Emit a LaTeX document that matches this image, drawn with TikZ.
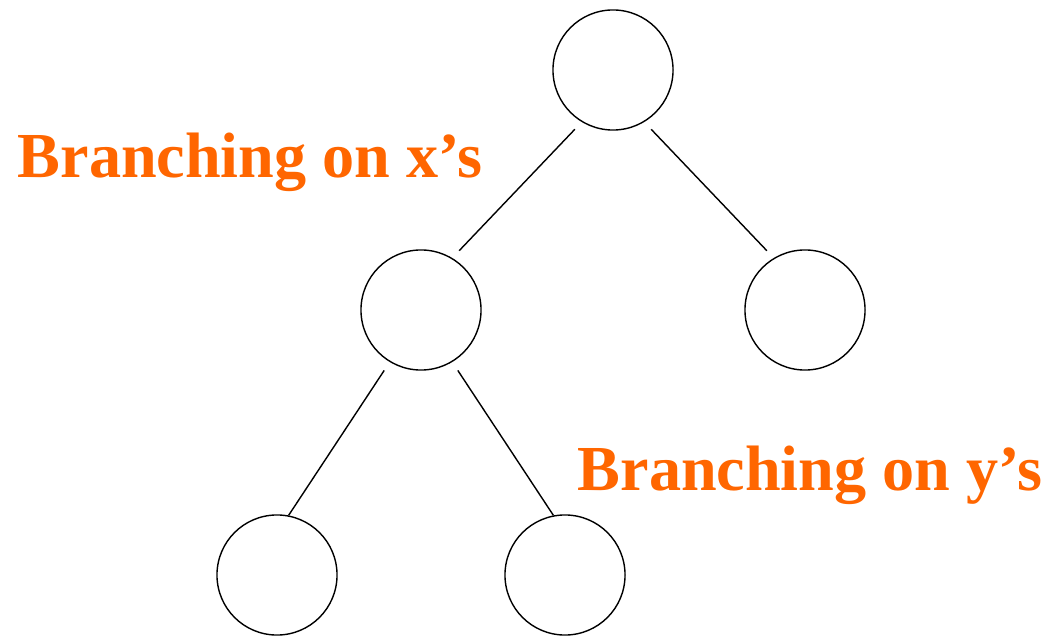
\documentclass[tikz,border=0pt]{standalone}
\usepackage{fontspec}
\setmainfont{Liberation Serif}
\usetikzlibrary{positioning}
\definecolor{branchorange}{HTML}{FF6600}

\begin{document}
\begin{tikzpicture}[x=0.01cm, y=-0.01cm,
    treenode/.style={draw, circle, line width=0.4pt, minimum size=1.2cm, inner sep=0pt},
    treeedge/.style={line width=0.4pt},
    branchlabel/.style={text=branchorange, inner sep=0pt, anchor=base west,
        font=\fontsize{18.25}{21}\selectfont\bfseries}]
  \useasboundingbox (0,0) rectangle (1046,637);
  % Root
  \node[treenode] (root) at (613,70) {};
  % Level 1
  \node[treenode] (xleft) at (421,310) {};
  \node[treenode] (xright) at (805,310) {};
  % Level 2
  \node[treenode] (yleft) at (277,575) {};
  \node[treenode] (yright) at (565,575) {};

  \draw[treeedge, shorten <=0.1cm, shorten >=0.1cm] (root.239) -- (xleft.59);
  \draw[treeedge, shorten <=0.1cm, shorten >=0.1cm] (root.301) -- (xright.121);
  \draw[treeedge, shorten <=0.1cm] (xleft.239) -- (yleft.79);
  \draw[treeedge, shorten <=0.1cm] (xleft.301) -- (yright.101);

  \node[branchlabel] (xlabel) at (17,178) {Branching on x's};
  \node[branchlabel] (ylabel) at (577,490) {Branching on y's};
\end{tikzpicture}
\end{document}
